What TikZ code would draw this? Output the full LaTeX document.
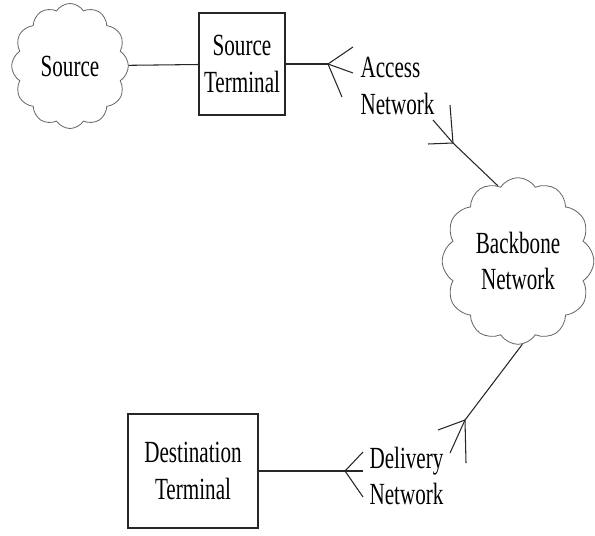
\documentclass[tikz,border=0pt]{standalone}
\usepackage{fontspec}
\setmainfont{Liberation Serif}
\usepackage{graphicx}
\usepackage{tikz}
\usetikzlibrary{shapes.symbols}
\newcommand{\tallline}[1]{\scalebox{1.03}[1.5]{#1}}

\begin{document}
\begin{tikzpicture}[x=0.03cm,y=-0.03cm,line width=0.9pt,
base node/.style={rectangle,draw=black!85,line width=1pt,inner sep=0pt,align=center,
  font=\fontsize{17.5}{31.5}\selectfont,text=black},
cloud node/.style={cloud,cloud puffs=12,cloud puff arc=115,cloud ignores aspect,draw=black!60,
  line width=0.7pt,inner sep=0pt,align=center,font=\fontsize{17.5}{31.5}\selectfont,text=black},
net label/.style={align=left,anchor=west,inner sep=0pt,font=\fontsize{17.5}{31.5}\selectfont,text=black},
link/.style={draw=black!85,line width=0.9pt}]

\useasboundingbox (0,0) rectangle (595,535);

\node[cloud node,minimum width=3.5cm,minimum height=3.75cm] (src) at (70,66) {\tallline{Source}};
\node[base node,minimum width=2.58cm,minimum height=3.06cm] (srcterm) at (242,64) {\tallline{Source}\\\tallline{Terminal}};
\node[cloud node,minimum width=4.55cm,minimum height=5cm] (bb) at (518,261) {\tallline{Backbone}\\\tallline{Network}};
\node[base node,minimum width=3.9cm,minimum height=3.42cm] (dstterm) at (193,471) {\tallline{Destination}\\\tallline{Terminal}};

\node[net label] (acc) at (360,86) {\tallline{Access}\\\tallline{Network}};
\node[net label] (dlv) at (369,476) {\tallline{Delivery}\\\tallline{Network}};

% access network fan
\coordinate (accfork) at (328,64);
\coordinate (accout1) at (353,47);
\coordinate (accout2) at (353,73);
\coordinate (accout3) at (342,97);
\coordinate (bbfork) at (453,143);
\coordinate (bbin1) at (450,105);
\coordinate (bbin2) at (433,120);
\coordinate (bbin3) at (428,144);

% delivery network fan
\coordinate (dlvfork) at (465,420);
\coordinate (dlvout1) at (438,430);
\coordinate (dlvout2) at (450,453);
\coordinate (dlvout3) at (466,463);
\coordinate (dstfork) at (345,471);
\coordinate (dstin1) at (363,452);
\coordinate (dstin2) at (363,471);
\coordinate (dstin3) at (363,497);

\path[link]
(src) edge (srcterm)
(srcterm) edge (accfork)
(accfork) edge (accout1)
edge (accout2)
edge (accout3)
(bbin1) edge (bbfork)
(bbin2) edge (bbfork)
(bbin3) edge (bbfork)
(bbfork) edge (bb.105)
(bb.-87) edge (dlvfork)
(dlvfork) edge (dlvout1)
edge (dlvout2)
edge (dlvout3)
(dstin1) edge (dstfork)
(dstin2) edge (dstfork)
(dstin3) edge (dstfork)
(dstfork) edge (dstterm);
\end{tikzpicture}
\end{document}
